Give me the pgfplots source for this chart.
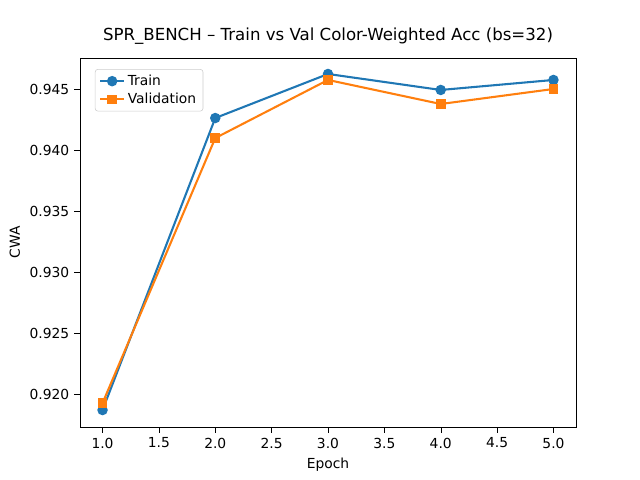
\documentclass[border=0pt]{standalone}
\usepackage{pgfplots}
\pgfplotsset{compat=1.18}
\usepackage{fontspec}
\setmainfont{DejaVu Sans}
\definecolor{mplblue}{HTML}{1F77B4}
\definecolor{mplorange}{HTML}{FF7F0E}
\begin{document}
\begin{tikzpicture}[x=1in,y=1in]
\path (0,0) rectangle (6.4,4.8);
\begin{axis}[
  at={(0.80in,0.53in)}, anchor=south west,
  scale only axis, width=4.96in, height=3.69in,
  xmin=0.8, xmax=5.2, ymin=0.9173, ymax=0.94754,
  xtick={1,1.5,...,5}, ytick={0.920,0.925,...,0.9451},
  /pgf/number format/.cd, fixed, fixed zerofill, precision=1, assume math mode=true, /pgfplots/.cd,
  yticklabel style={/pgf/number format/precision=3},
  tick style={black}, tick align=outside, xtick pos=bottom, ytick pos=left,
  tick label style={font=\fontsize{10}{12}\selectfont},
  xlabel={Epoch}, ylabel={CWA},
  label style={font=\fontsize{10}{12}\selectfont},
  title={SPR\_BENCH – Train vs Val Color-Weighted Acc (bs=32)},
  title style={font=\fontsize{12}{14}\selectfont},
  legend pos=north west,
  legend style={font=\fontsize{10}{12}\selectfont, draw=black!20, rounded corners=2pt},
  legend cell align=left,
]
\addplot[mplblue, line width=1.5pt, mark=*, mark size=3pt] coordinates {(1,0.91869)(2,0.94262)(3,0.94623)(4,0.94492)(5,0.94574)};
\addlegendentry{Train}
\addplot[mplorange, line width=1.5pt, mark=square*, mark size=2.7pt] coordinates {(1,0.91926)(2,0.94098)(3,0.94574)(4,0.94377)(5,0.94500)};
\addlegendentry{Validation}
\end{axis}
\end{tikzpicture}
\end{document}
